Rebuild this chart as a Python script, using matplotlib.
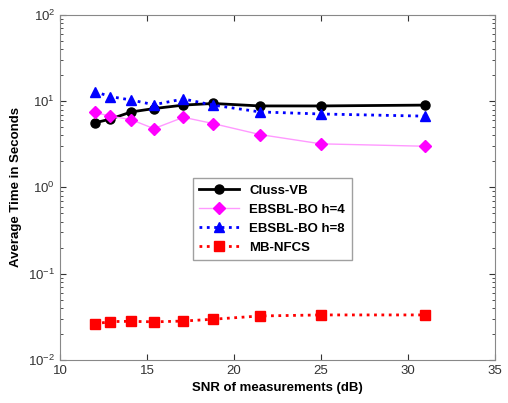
import matplotlib
matplotlib.use("Agg")
import matplotlib.pyplot as plt

plt.rcParams["font.family"] = ["Liberation Sans", "DejaVu Sans"]

# SNR (dB) at which each method was evaluated
snr = [12.0, 12.9, 14.1, 15.4, 17.1, 18.8, 21.5, 25.0, 31.0]

cluss_vb = [5.6, 6.2, 7.5, 8.2, 9.0, 9.4, 8.8, 8.8, 9.0]
ebsbl_h4 = [7.4, 6.7, 6.1, 4.8, 6.5, 5.5, 4.1, 3.2, 3.0]
ebsbl_h8 = [12.9, 11.3, 10.3, 9.1, 10.6, 9.0, 7.5, 7.1, 6.7]
mb_nfcs = [0.0261, 0.0278, 0.0280, 0.0276, 0.0282, 0.0296, 0.0323, 0.0332, 0.0332]

labels = ["Cluss-VB", "EBSBL-BO h=4", "EBSBL-BO h=8", "MB-NFCS"]

fig = plt.figure(figsize=(5.08, 4.03), dpi=100)
ax = fig.add_axes([0.118, 0.107, 0.856, 0.856])

ax.plot(snr, cluss_vb, "-o", color="black", lw=2, ms=6.5, label=labels[0])
ax.plot(snr, ebsbl_h4, "-D", color="#ff99ff", mfc="#ff00ff", mec="#ff00ff",
        lw=1, ms=6, label=labels[1])
ax.plot(snr, ebsbl_h8, ":^", color="#0000ff", lw=2, ms=6.5, label=labels[2])
ax.plot(snr, mb_nfcs, ":s", color="#ff0000", lw=2, ms=6.5, label=labels[3])

ax.set_yscale("log")
ax.set_xlim(10, 35)
ax.set_ylim(1e-2, 1e2)
ax.set_xticks(range(10, 36, 5))
ax.tick_params(which="both", direction="in", top=True, right=True,
               labelsize=9.5, colors="#333333")
ax.tick_params(which="major", length=4)
ax.tick_params(which="minor", length=2)
for s in ax.spines.values():
    s.set_color("#888888")

ax.set_xlabel("SNR of measurements (dB)", fontsize=9.5, fontweight="bold")
ax.set_ylabel("Average Time in Seconds", fontsize=9.5, fontweight="bold")

leg = ax.legend(loc="lower left", bbox_to_anchor=(0.29, 0.27), fancybox=False,
                prop={"weight": "bold", "size": 9.5}, handlelength=3,
                borderpad=0.5, labelspacing=0.5)
leg.get_frame().set_edgecolor("#888888")
leg.get_frame().set_linewidth(1)

fig.savefig("out.png", dpi=100)
